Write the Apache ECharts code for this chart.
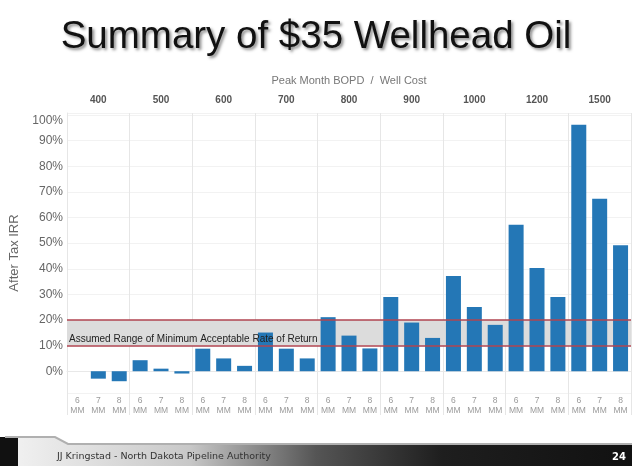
<!DOCTYPE html>
<html>
<head>
<meta charset="utf-8">
<script src="https://cdn.jsdelivr.net/npm/echarts@6/dist/echarts.min.js"></script>
<style>
  html, body { margin: 0; padding: 0; background: #fff; }
  #chart { width: 632px; height: 466px; }
</style>
</head>
<body>
<div id="chart"></div>
<script>
const groups = ['400', '500', '600', '700', '800', '900', '1000', '1200', '1500'];
const costs = ['6', '7', '8'];
const irr6MM = [0, 4.3, 8.8, 15.1, 21.1, 29, 37.2, 57.2, 96.2];
const irr7MM = [-2.9, 1.0, 5.0, 8.8, 13.9, 19, 25.1, 40.3, 67.3];
const irr8MM = [-3.9, -0.9, 2.1, 5.0, 8.9, 13, 18.1, 29, 49.2];
const marrLow = 10;
const marrHigh = 20;
const bandLabel = 'Assumed Range of Minimum Acceptable Rate of Return';

// one category per (group, well cost) pair
const categories = [];
const values = [];
groups.forEach((g, i) => {
  const row = [irr6MM[i], irr7MM[i], irr8MM[i]];
  costs.forEach((c, j) => {
    categories.push(c + '\nMM');
    values.push(row[j]);
  });
});

const chart = echarts.init(document.getElementById('chart'));
const everyGroup = (idx) => idx % 3 === 0;

chart.setOption({
  backgroundColor: '#fff',
  animation: false,
  title: {
    text: 'Summary of $35 Wellhead Oil',
    left: 'center',
    top: 13,
    textStyle: {
      fontFamily: 'Liberation Sans',
      fontSize: 38.5,
      fontWeight: 'normal',
      color: '#111',
      textShadowColor: 'rgba(0,0,0,0.45)',
      textShadowBlur: 3,
      textShadowOffsetX: 2,
      textShadowOffsetY: 2,
    },
  },
  grid: { left: 67, right: 1, top: 113, bottom: 73 },
  xAxis: [
    {
      type: 'category',
      data: categories,
      position: 'bottom',
      axisLine: { show: false, onZero: false },
      axisTick: { show: true, interval: everyGroup, length: 22, lineStyle: { color: '#e6e6e6' } },
      splitLine: { show: true, interval: everyGroup, lineStyle: { color: '#e6e6e6' } },
      axisLabel: {
        interval: 0,
        margin: 3,
        fontFamily: 'Liberation Sans',
        fontSize: 8.5,
        lineHeight: 10,
        color: '#9a9a9a',
      },
    },
    {
      type: 'category',
      data: groups,
      position: 'top',
      axisLine: { show: true, lineStyle: { color: '#e8e8e8' } },
      axisTick: { show: true, length: 26, lineStyle: { color: '#e6e6e6' } },
      axisLabel: {
        margin: 8,
        fontFamily: 'Liberation Sans',
        fontSize: 10,
        fontWeight: 'bold',
        color: '#555',
      },
      name: 'Peak Month BOPD  /  Well Cost',
      nameLocation: 'middle',
      nameGap: 27,
      nameTextStyle: { fontFamily: 'Liberation Sans', fontSize: 11, color: '#777' },
    },
  ],
  yAxis: {
    type: 'value',
    min: -8.5,
    max: 100.8,
    splitNumber: 11,
    name: 'After Tax IRR',
    nameLocation: 'middle',
    nameGap: 46,
    nameTextStyle: { fontFamily: 'Liberation Sans', fontSize: 13, color: '#666' },
    axisLine: { show: true, lineStyle: { color: '#e6e6e6' } },
    axisTick: { show: false },
    axisLabel: {
      margin: 4,
      fontFamily: 'Liberation Sans',
      fontSize: 12,
      color: '#666',
      formatter: (v) => {
        if (v < 0 || Math.abs(v % 10) > 1e-6) return '';
        return v === 100 ? '{top|100%}' : v + '%';
      },
      rich: {
        top: { fontFamily: 'Liberation Sans', fontSize: 12, color: '#666', padding: [12, 0, 0, 0] },
      },
    },
    splitLine: { lineStyle: { color: '#f2f2f2' } },
  },
  series: [
    {
      type: 'bar',
      xAxisIndex: 0,
      data: values,
      barWidth: 15,
      itemStyle: { color: '#2477b6' },
      markArea: {
        silent: true,
        label: { show: false },
        itemStyle: { color: '#dcdcdc' },
        data: [[{ yAxis: marrLow }, { yAxis: marrHigh }]],
      },
      markLine: {
        silent: true,
        symbol: 'none',
        lineStyle: { color: '#b04550', width: 1.5, type: 'solid' },
        label: { show: false },
        data: [
          { yAxis: marrHigh },
          {
            yAxis: marrLow,
            label: {
              show: true,
              position: 'insideStartTop',
              distance: [2, 1],
              formatter: bandLabel,
              fontFamily: 'Liberation Sans',
              fontSize: 10,
              color: '#222',
            },
          },
        ],
      },
    },
  ],
  graphic: [
    {
      type: 'polygon',
      shape: { points: [[0, 437], [55, 437], [68, 444], [632, 444], [632, 466], [0, 466]] },
      style: {
        fill: new echarts.graphic.LinearGradient(0, 0, 1, 0, [
          { offset: 0, color: '#f4f4f4' },
          { offset: 0.3, color: '#c8c8c8' },
          { offset: 0.5, color: '#555' },
          { offset: 0.7, color: '#1e1e1e' },
          { offset: 1, color: '#111' },
        ]),
      },
      silent: true,
    },
    { type: 'rect', shape: { x: 0, y: 437, width: 18, height: 29 }, style: { fill: '#111' }, silent: true },
    {
      type: 'polyline',
      shape: { points: [[5, 437], [55, 437], [68, 444], [632, 444]] },
      style: { stroke: '#b0b0b0', lineWidth: 2, fill: null },
      silent: true,
    },
    {
      type: 'text',
      x: 57,
      y: 457,
      style: {
        text: 'JJ Kringstad - North Dakota Pipeline Authority',
        fontFamily: 'DejaVu Sans',
        fontSize: 9.5,
        fill: '#333',
        verticalAlign: 'middle',
      },
      silent: true,
    },
    {
      type: 'text',
      x: 626,
      y: 457,
      style: {
        text: '24',
        fontFamily: 'DejaVu Sans',
        fontSize: 10,
        fontWeight: 'bold',
        fill: '#fff',
        align: 'right',
        verticalAlign: 'middle',
      },
      silent: true,
    },
  ],
});

window.addEventListener('resize', () => chart.resize());
</script>
</body>
</html>
